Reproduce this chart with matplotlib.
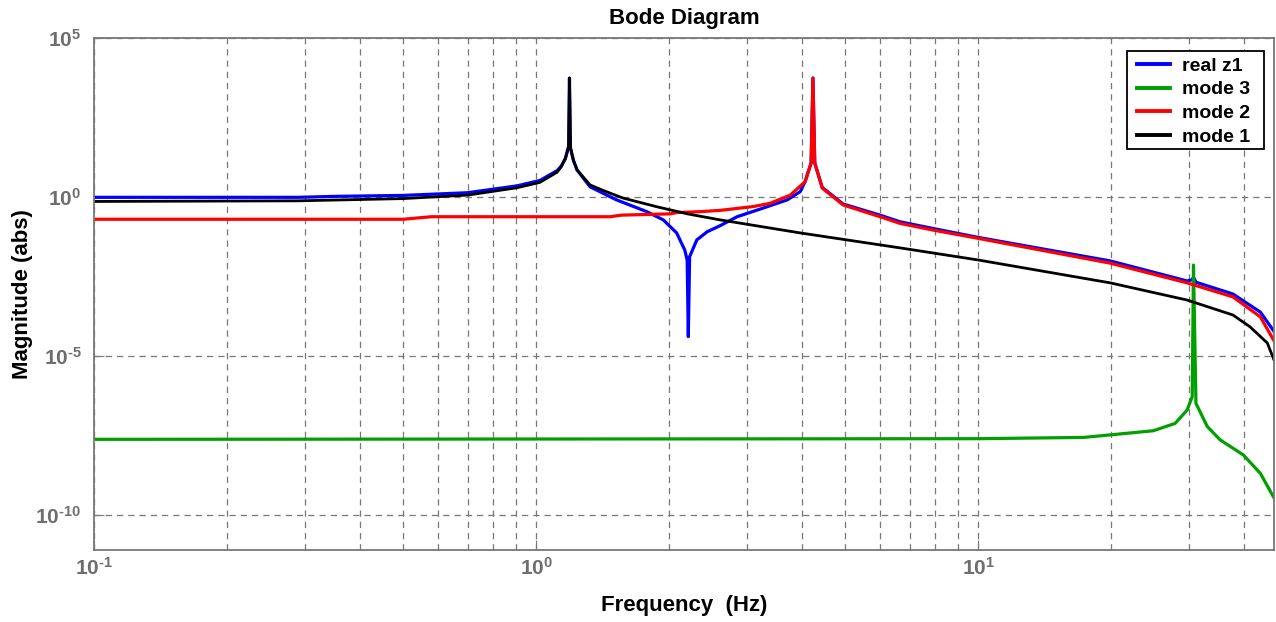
import numpy as np
import matplotlib
matplotlib.use("Agg")
import matplotlib.pyplot as plt
from matplotlib.patches import Rectangle
from matplotlib.ticker import FixedLocator, FuncFormatter, NullFormatter

plt.rcParams['font.family'] = ['Liberation Sans', 'DejaVu Sans']
plt.rcParams['mathtext.fontset'] = 'custom'
plt.rcParams['mathtext.bf'] = 'Liberation Sans:bold'
plt.rcParams['mathtext.rm'] = 'Liberation Sans:bold'

# frequency response magnitudes (Hz, log10 of |H|)
real_z1_f = [0.1, 0.29, 0.35, 0.5, 0.7, 0.905, 1.02, 1.116, 1.14, 1.165, 1.185, 1.19, 1.196,
             1.215, 1.238, 1.325, 1.52, 1.78, 1.94, 2.08, 2.17, 2.197, 2.21, 2.225, 2.31,
             2.44, 2.61, 2.85, 3.26, 3.70, 3.96, 4.06, 4.19, 4.23, 4.27, 4.44, 4.95, 6.0,
             6.66, 7.91, 10, 19.9, 29.7, 30.5, 30.7, 31.1, 37.7, 43.5, 47.0]
real_z1_mag = [-0.01, -0.01, 0.02, 0.05, 0.135, 0.35, 0.52, 0.83, 0.97, 1.22, 1.6, 3.74, 1.55,
               1.15, 0.85, 0.32, -0.09, -0.46, -0.72, -1.13, -1.67, -1.98, -4.39, -1.88, -1.35,
               -1.09, -0.90, -0.62, -0.35, -0.09, 0.17, 0.48, 1.07, 3.74, 1.07, 0.30, -0.22, -0.57,
               -0.78, -0.99, -1.27, -2.01, -2.64, -2.60, -2.52, -2.68, -3.05, -3.62, -4.28]

mode3_f = [0.1, 10, 17.3, 19.9, 24.9, 27.9, 29.7, 30.5, 30.7, 31.1, 33.0, 35.3, 39.8, 43.5, 47.0]
mode3_mag = [-7.62, -7.60, -7.56, -7.48, -7.35, -7.12, -6.70, -6.28, -2.14, -6.49, -7.22, -7.64,
             -8.11, -8.69, -9.53]

mode2_f = [0.1, 0.5, 0.58, 1.47, 1.56, 2.01, 2.08, 2.35, 2.61, 3.10, 3.38, 3.76, 4.06, 4.19,
           4.23, 4.27, 4.44, 4.95, 6.0, 6.66, 7.91, 10, 19.9, 29.7, 37.7, 43.5, 47.0]
mode2_mag = [-0.70, -0.70, -0.62, -0.62, -0.57, -0.53, -0.49, -0.46, -0.42, -0.30, -0.20, 0.06,
             0.48, 1.07, 3.74, 1.07, 0.28, -0.25, -0.62, -0.83, -1.04, -1.30, -2.08, -2.70,
             -3.14, -3.77, -4.59]

mode1_f = [0.1, 0.29, 0.5, 0.7, 0.905, 1.02, 1.116, 1.14, 1.165, 1.185, 1.19, 1.196, 1.215,
           1.238, 1.325, 1.41, 1.57, 1.88, 2.20, 2.61, 3.96, 6.66, 10, 19.9, 29.7, 37.7, 41.2,
           45.1, 47.0]
mode1_mag = [-0.14, -0.12, -0.05, 0.06, 0.29, 0.46, 0.78, 0.95, 1.2, 1.57, 3.74, 1.55, 1.15,
             0.85, 0.38, 0.22, -0.03, -0.31, -0.53, -0.72, -1.13, -1.60, -1.98, -2.70, -3.24,
             -3.71, -4.08, -4.59, -5.22]

series = [
    ("real z1", real_z1_f, real_z1_mag, "#0000ff", 2.3),
    ("mode 3", mode3_f, mode3_mag, "#00a000", 2.3),
    ("mode 2", mode2_f, mode2_mag, "#ff0000", 2.3),
    ("mode 1", mode1_f, mode1_mag, "#000000", 2.0),
]

W, H = 1276, 622
fig = plt.figure(figsize=(W / 100, H / 100), dpi=100)
ax = fig.add_axes([94 / W, 1 - 550 / H, (1274 - 94) / W, (550 - 38) / H])

for name, f, m, c, lw in series:
    ax.loglog(f, 10.0 ** np.array(m), color=c, lw=lw, label=name)

ax.set_xlim(0.1, 46.7)
ax.set_ylim(10 ** -11.1, 1e5)


def pow10_label(v, pos):
    e = int(round(np.log10(v)))
    if e < 0:
        return r"$\mathbf{10^{\text{-}%d}}$" % -e
    return r"$\mathbf{10^{%d}}$" % e


grey = "#777777"
ax.yaxis.set_major_locator(FixedLocator([1e-10, 1e-5, 1e0, 1e5]))
ax.yaxis.set_minor_locator(FixedLocator([]))
ax.xaxis.set_major_locator(FixedLocator([0.1, 1, 10]))
ax.xaxis.set_minor_locator(FixedLocator([k * d for d in (0.1, 1, 10) for k in range(2, 10)]))
ax.xaxis.set_major_formatter(FuncFormatter(pow10_label))
ax.yaxis.set_major_formatter(FuncFormatter(pow10_label))
ax.xaxis.set_minor_formatter(NullFormatter())

ax.tick_params(which="both", direction="in", colors=grey, labelcolor="#6e6e6e",
               labelsize=15, top=False, right=False)
ax.tick_params(axis="x", which="major", length=7, pad=5)
ax.tick_params(axis="x", which="minor", length=4)
ax.tick_params(axis="y", which="major", length=7, pad=9)
for s in ax.spines.values():
    s.set_color(grey)
    s.set_linewidth(1.3)

ax.grid(True, which="major", axis="both", color=grey, ls=(0, (5, 4)), lw=0.9)
ax.grid(True, which="minor", axis="x", color=grey, ls=(0, (5, 4)), lw=0.9)
ax.set_axisbelow(True)

ax.set_title("Bode Diagram", fontsize=16, fontweight="bold", pad=10)
ax.set_xlabel("Frequency  (Hz)", fontsize=16, fontweight="bold")
ax.set_ylabel("Magnitude (abs)", fontsize=16, fontweight="bold")
ax.xaxis.set_label_coords(0.5, -0.088)
ax.yaxis.set_label_coords(-0.052, 0.5)

# legend entries without their own frame; the box is drawn separately
leg = ax.legend(loc="upper left", bbox_to_anchor=(1137 / W, 1 - 57 / H),
                bbox_transform=fig.transFigure, borderaxespad=0, borderpad=0,
                frameon=False, prop={"weight": "bold", "size": 14},
                handlelength=1.7, handletextpad=0.62, labelspacing=0.32)
leg.set_zorder(6)
for line in leg.get_lines():
    line.set_linewidth(2.8)
box = Rectangle((1127 / W, 1 - 149 / H), 137 / W, 98 / H, transform=fig.transFigure,
                facecolor="white", edgecolor="black", lw=1.3, zorder=5.5)
ax.add_patch(box)

fig.savefig("out.png", dpi=100)
